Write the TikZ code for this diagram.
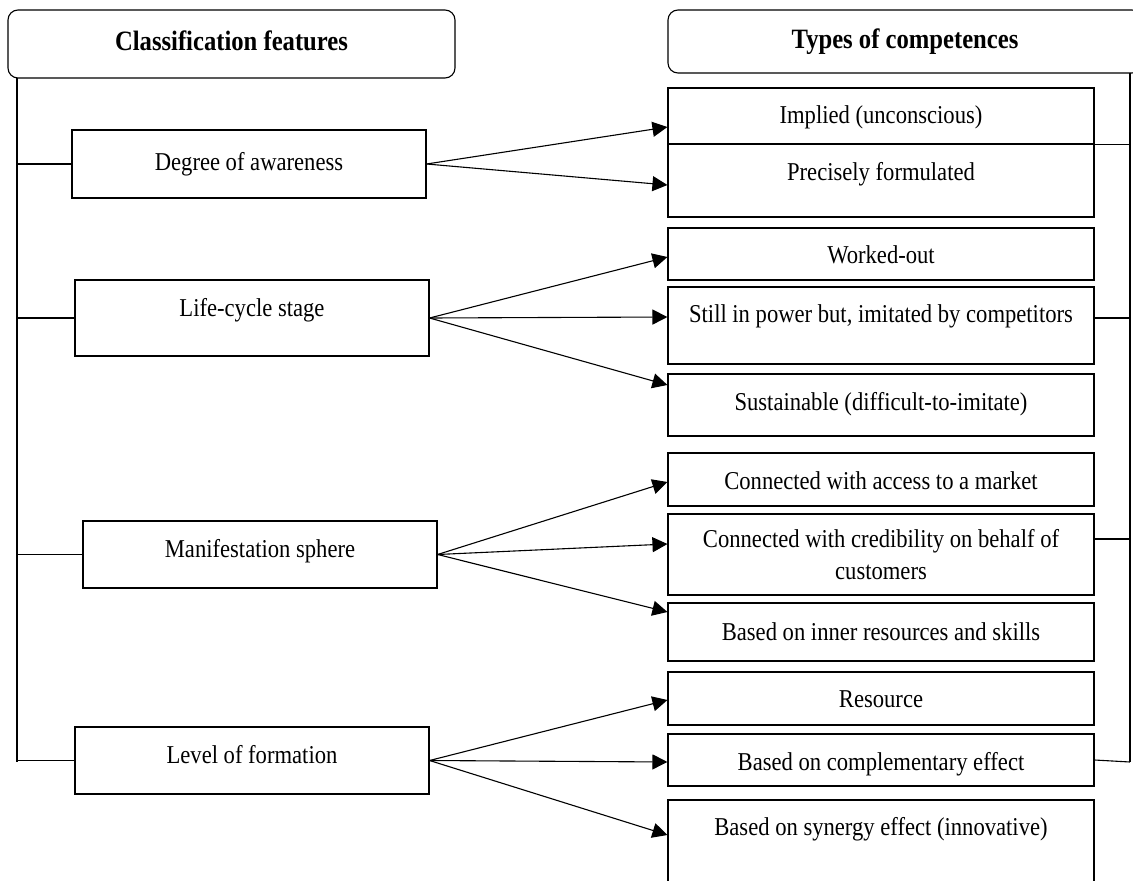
\documentclass[tikz,border=0pt]{standalone}
\usepackage{fontspec}
\setmainfont[FakeStretch=0.88]{Liberation Serif}
\usetikzlibrary{arrows.meta,calc}

\tikzset{
  headbox/.style={draw, line width=1.1pt, rounded corners=10pt, inner sep=0pt, anchor=base,
    font=\bfseries\fontsize{28}{32}\selectfont},
  featbox/.style={draw, line width=1.1pt, inner sep=0pt, anchor=base, minimum width=354pt,
    font=\fontsize{25.7}{32}\selectfont},
  typebox/.style={featbox, minimum width=426pt},
  arr/.style={-{Triangle[length=15pt,width=15pt]}, line width=1.1pt},
}

\begin{document}
\begin{tikzpicture}[x=1pt, y=-1pt]
      \useasboundingbox (0,0) rectangle (1133,881);
      \clip (0,0) rectangle (1133,881);
      % headers
      \node[headbox, minimum width=447pt, text height=40pt, text depth=28pt] (lhead) at (231.5,50) {Classification features};
      \node[headbox, minimum width=474pt, text height=38pt, text depth=25pt] (rhead) at (905,48) {Types of competences};
      % classification features
      \node[featbox, text height=40pt, text depth=28pt] (degree) at (249,170) {Degree of awareness};
      \node[featbox, text height=36pt, text depth=40pt] (life) at (252,316) {Life-cycle stage};
      \node[featbox, text height=36pt, text depth=31pt] (sphere) at (260,557) {Manifestation sphere};
      \node[featbox, text height=36pt, text depth=31pt] (level) at (252,763) {Level of formation};
      % types of competences
      \node[typebox, text height=35pt, text depth=21pt] (implied) at (881,123) {Implied (unconscious)};
      \node[typebox, text height=36pt, text depth=37pt] (precise) at (881,180) {Precisely formulated};
      \node[typebox, text height=35pt, text depth=17pt] (worked) at (881,263) {Worked-out};
      \node[typebox, text height=35pt, text depth=42pt] (still) at (881,322) {Still in power but, imitated by competitors};
      \node[typebox, text height=36pt, text depth=26pt] (sustain) at (881,410) {Sustainable (difficult-to-imitate)};
      \node[typebox, text height=36pt, text depth=17pt] (market) at (881,489) {Connected with access to a market};
      \node[typebox, anchor=center, minimum height=81pt, align=center] (credit) at (881,554.5) {Connected with credibility on behalf of\\customers};
      \node[typebox, text height=37pt, text depth=21pt] (inner) at (881,640) {Based on inner resources and skills};
      \node[typebox, text height=35pt, text depth=18pt] (resource) at (881,707) {Resource};
      \node[typebox, text height=36pt, text depth=16pt] (compl) at (881,770) {Based on complementary effect};
      \node[typebox, text height=35pt, text depth=65pt] (synergy) at (881,835) {Based on synergy effect (innovative)};
      % left trunk
      \coordinate (ltop) at (17,78);
      \coordinate (lbot) at (17,762);
      \draw[line width=1.1pt] (ltop) -- (lbot);
      \draw[line width=1.1pt] (degree.west) -- (degree.west -| ltop);
      \draw[line width=1.1pt] (life.west) -- (life.west -| ltop);
      \draw[line width=1.1pt] (sphere.west) -- (sphere.west -| ltop);
      \draw[line width=1.1pt] (level.west) -- (level.west -| ltop);
      % right trunk
      \coordinate (rtop) at (1130,73);
      \coordinate (rbot) at (1130,762);
      \draw[line width=1.1pt] (rtop) -- (rbot);
      \draw[line width=1.1pt] (implied.south east) -- (implied.south east -| rtop);
      \draw[line width=1.1pt] ([yshift=7.5pt]still.east) -- ([yshift=7.5pt]still.east -| rtop);
      \draw[line width=1.1pt] ([yshift=15.5pt]credit.east) -- ([yshift=15.5pt]credit.east -| rtop);
      \draw[line width=1.1pt] (compl.east) -- (rbot);
      % arrows
      \draw[arr] (degree.east) -- ([yshift=-11pt]implied.west);
      \draw[arr] (degree.east) -- ([yshift=-4.5pt]precise.west);
      \draw[arr] (life.east) -- ([yshift=-3pt]worked.west);
      \draw[arr] (life.east) -- ([yshift=8.5pt]still.west);
      \draw[arr] (life.east) -- ([yshift=20pt]sustain.west);
      \draw[arr] (sphere.east) -- ([yshift=-2.5pt]market.west);
      \draw[arr] (sphere.east) -- ([yshift=10.5pt]credit.west);
      \draw[arr] (sphere.east) -- ([yshift=20pt]inner.west);
      \draw[arr] (level.east) -- ([yshift=-1.5pt]resource.west);
      \draw[arr] (level.east) -- ([yshift=-2pt]compl.west);
      \draw[arr] (level.east) -- ([yshift=15pt]synergy.west);
\end{tikzpicture}
\end{document}
